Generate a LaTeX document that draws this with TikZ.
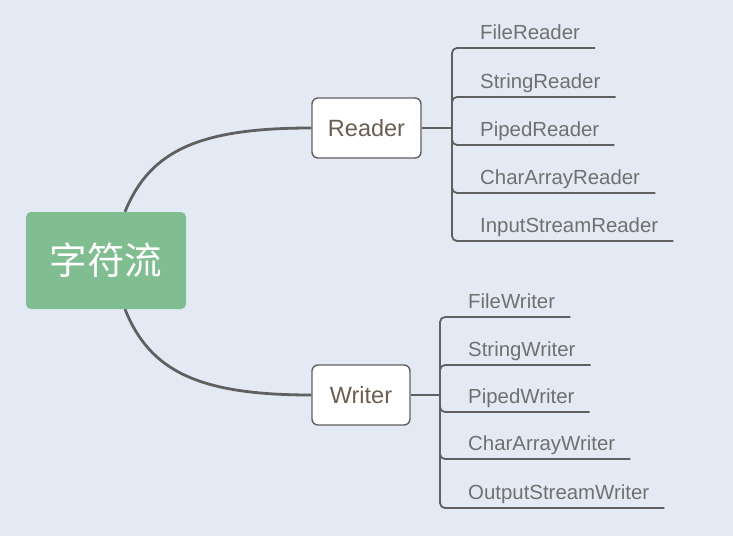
\documentclass[tikz,border=0pt]{standalone}
\usepackage{fontspec}
\setmainfont{Liberation Sans}
\newfontfamily\cjk{Noto Sans CJK SC}
\usetikzlibrary{calc}
\definecolor{bgc}{HTML}{E3EAF4}
\definecolor{rootc}{HTML}{80BD91}
\definecolor{linec}{HTML}{606060}
\definecolor{boxtxt}{HTML}{6B5E50}
\definecolor{leaftxt}{HTML}{707070}
\tikzset{
  rootbox/.style={fill=rootc, rounded corners=5pt, minimum width=160pt, minimum height=97pt,
    text=white, font=\cjk\fontsize{37.5}{40}\selectfont, inner sep=0pt},
  midbox/.style={draw=linec, line width=1.4pt, fill=white, rounded corners=6pt,
    minimum height=60pt, text=boxtxt, font=\fontsize{23.5}{26}\selectfont, inner sep=0pt},
  leaf/.style={anchor=south west, inner xsep=0pt, inner ysep=4pt, text height=15pt, text depth=4pt,
    text=leaftxt, font=\fontsize{20.4}{22}\selectfont},
  mainlink/.style={draw=linec, line width=2.8pt},
  branch/.style={draw=linec, line width=1.8pt, rounded corners=5pt},
}
\newcommand{\leaftext}[1]{\hspace*{28pt}#1\hspace*{15pt}}
\begin{document}
\begin{tikzpicture}[x=1pt,y=-1pt]
\useasboundingbox (0,0) rectangle (733,536);
\fill[bgc] (0,0) rectangle (733,536);

\node[rootbox] (root) at (106,260.5) {字符流};
\node[midbox, minimum width=109pt] (reader) at (366.5,128) {Reader};
\node[midbox, minimum width=98pt] (writer) at (361,395) {Writer};

\draw[mainlink] ([xshift=19pt]root.north) .. controls (150,150) and (200,128) .. (reader.west);
\draw[mainlink] ([xshift=19pt]root.south) .. controls (150,372) and (200,395) .. (writer.west);

% Reader children
\coordinate (rj) at (452,128);
\draw[branch] (reader.east) -- (rj);
\node[leaf] (r1) at (452,48) {\leaftext{FileReader}};
\node[leaf] (r2) at (452,97) {\leaftext{StringReader}};
\node[leaf] (r3) at (452,145) {\leaftext{PipedReader}};
\node[leaf] (r4) at (452,193) {\leaftext{CharArrayReader}};
\node[leaf] (r5) at (452,241) {\leaftext{InputStreamReader}};
\foreach \n in {r1,r2,r3,r4,r5}{
  \draw[branch] (rj) |- (\n.south east);
}

% Writer children
\coordinate (wj) at (440,395);
\draw[branch] (writer.east) -- (wj);
\node[leaf] (w1) at (440,317) {\leaftext{FileWriter}};
\node[leaf] (w2) at (440,365) {\leaftext{StringWriter}};
\node[leaf] (w3) at (440,412) {\leaftext{PipedWriter}};
\node[leaf] (w4) at (440,459) {\leaftext{CharArrayWriter}};
\node[leaf] (w5) at (440,508) {\leaftext{OutputStreamWriter}};
\foreach \n in {w1,w2,w3,w4,w5}{
  \draw[branch] (wj) |- (\n.south east);
}
\end{tikzpicture}
\end{document}
